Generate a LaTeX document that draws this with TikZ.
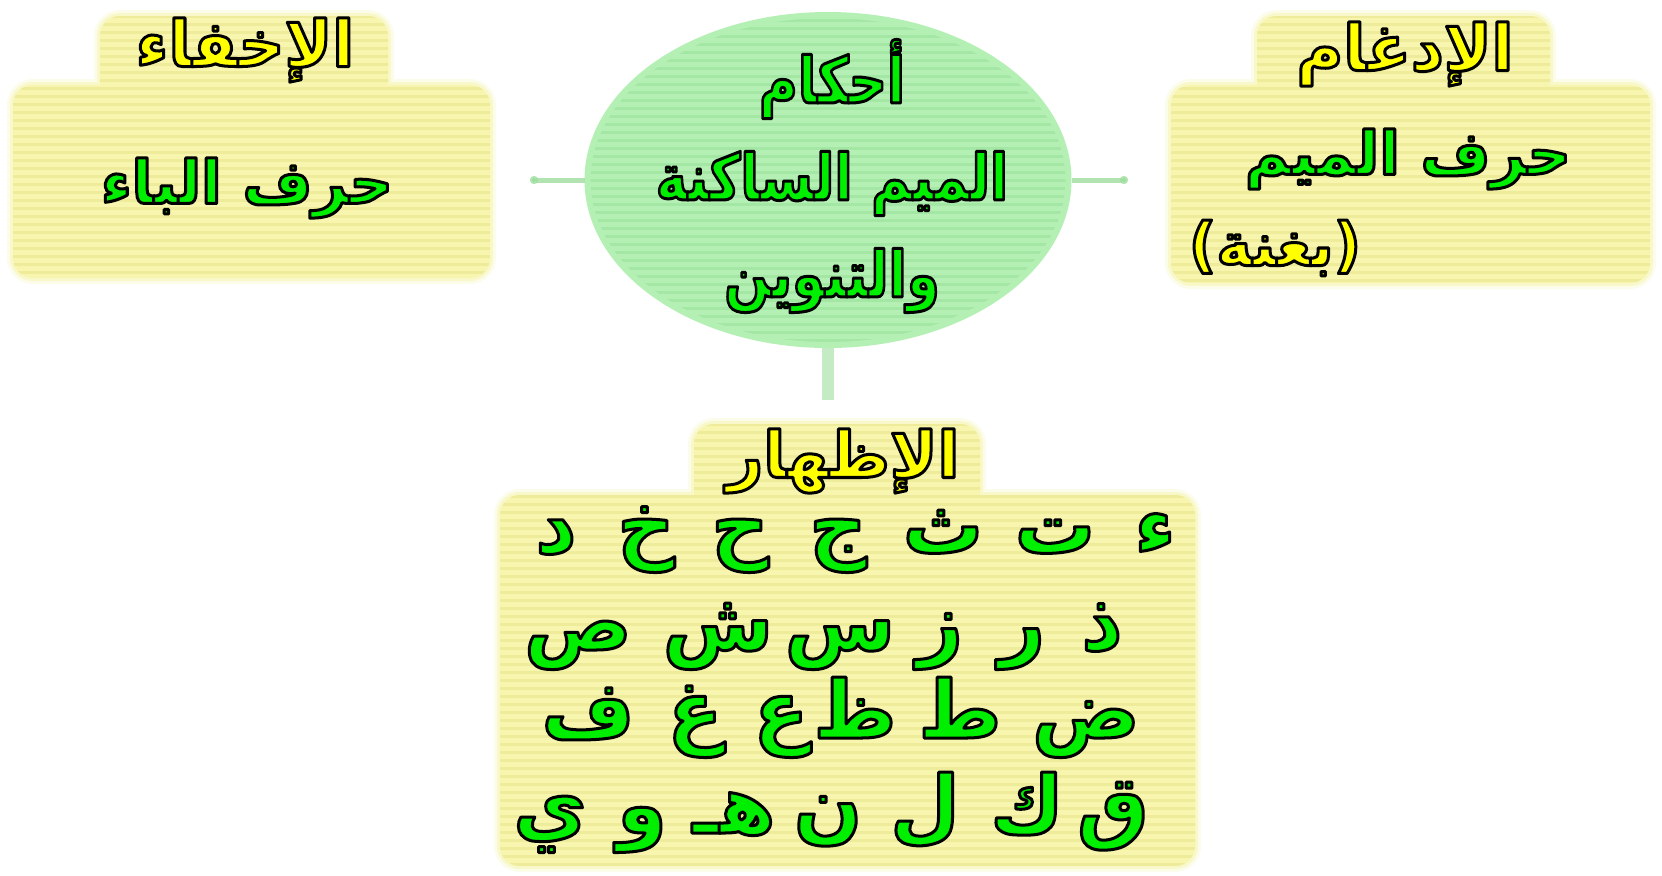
\documentclass[tikz,border=0pt]{standalone}
\usepackage{fontspec}
\usetikzlibrary{shapes.geometric,arrows.meta}
\TeXXeTstate=1
\newfontfamily\arabicbold[Script=Arabic]{DejaVu Sans Bold}
\definecolor{yl}{HTML}{F7F5AE}
\definecolor{yd}{HTML}{EEEC9A}
\definecolor{gl}{HTML}{B4F0B4}
\definecolor{gd}{HTML}{A4E6A4}
\definecolor{conncol}{HTML}{9EDE9E}
\definecolor{txtgreen}{HTML}{00EE00}
\definecolor{txtyellow}{HTML}{FFFF00}
\newcommand\outl[1]{\special{pdf:literal direct 0 G 2 Tr 1.5 w 1 j}#1\special{pdf:literal direct 0 Tr}}
\newcommand\mybox[9]{%
  \path[draw=#9l, line width=6pt, draw opacity=0.25, rounded corners=10pt] (#1,#2) rectangle (#3,#4) (#5,#6) rectangle (#7,#8);
  \path[draw=#9l, line width=3pt, draw opacity=0.5, rounded corners=10pt] (#1,#2) rectangle (#3,#4) (#5,#6) rectangle (#7,#8);
  \fill[#9l, rounded corners=10pt] (#1,#2) rectangle (#3,#4) (#5,#6) rectangle (#7,#8);
  \begin{scope}
    \clip[rounded corners=10pt] (#1,#2) rectangle (#3,#4) (#5,#6) rectangle (#7,#8);
    \foreach \yy in {0,8,...,880} \draw[#9d, line width=1.5pt] (0,\yy) -- (1662,\yy);
  \end{scope}}
\begin{document}
\begin{tikzpicture}[x=0.5pt,y=-0.5pt,
  title/.style={font=\arabicbold\fontsize{32}{38}\selectfont, text=txtyellow, inner sep=0pt},
  body/.style={font=\arabicbold\fontsize{30}{36}\selectfont, text=txtgreen, inner sep=0pt},
  letter/.style={font=\arabicbold\fontsize{40}{46}\selectfont, text=txtgreen, inner sep=0pt, anchor=base},
  conn/.style={draw=conncol, line width=2.5pt, draw opacity=0.8},
  hub/.style={ellipse, minimum width=240.5pt, minimum height=165pt, fill=gl, draw=gl, line width=3pt,
    inner sep=0pt,
    path picture={\foreach \yy in {-184,-176,...,184} \draw[gd, line width=1.5pt] (-260,\yy) -- (260,\yy);}},
  hubtext/.style={align=center, text=txtgreen, inner sep=0pt, font=\arabicbold\fontsize{32}{48.5}\selectfont}
]
\fill[white] (0,0) rectangle (1662,875);
\useasboundingbox (0,0) rectangle (1662,875);

% boxes
\mybox{100}{16}{388}{110}{13}{85}{490}{278}{y}
\mybox{1257}{16}{1550}{110}{1171}{85}{1650}{283}{y}
\mybox{694}{424}{980}{520}{500}{495}{1195}{866}{y}

% centre
\node[hub] (centre) at (828,180) {};
\node[hubtext] (centretext) at (832,176) {\scalebox{0.83}[1]{\outl{أحكام}}\\ \scalebox{0.83}[1]{\outl{\beginR الميم الساكنة\endR}}\\ \scalebox{0.83}[1]{\outl{والتنوين}}};

% connectors
\coordinate (lend) at (530,180);
\coordinate (rend) at (1128,180);
\coordinate (bend) at (828,400);
\draw[conn, -{Circle[length=4pt]}] (centre.west) -- (lend);
\draw[conn, -{Circle[length=4pt]}] (centre.east) -- (rend);
\draw[draw=conncol, line width=6pt, draw opacity=0.6] (centre.south) -- (bend);

% left box
\node[title] (lt) at (245,50) {\outl{الإخفاء}};
\node[body] (lb) at (247,188) {\outl{\beginR حرف الباء\endR}};

% right box
\node[title] (rt) at (1405,54) {\outl{الإدغام}};
\node[body] (rb) at (1408,159) {\outl{\beginR حرف الميم\endR}};
\node[body, text=txtyellow] (rp) at (1275,248) {\outl{(بغنة)}};

% bottom box
\node[title] (bt) at (843,461) {\outl{الإظهار}};
\foreach \ch/\xx [count=\i] in {ء/1155,ت/1055,ث/943,ج/838,ح/740,خ/646,د/556}
  \node[letter] (ra\i) at (\xx,553) {\outl{\ch}};
\foreach \ch/\xx [count=\i] in {ذ/1102,ر/1022,ز/940,س/840,ش/718,ص/578}
  \node[letter] (rb\i) at (\xx,650) {\outl{\ch}};
\foreach \ch/\xx [count=\i] in {ض/1086,ط/960,ظ/855,ع/781,غ/695,ف/588}
  \node[letter] (rc\i) at (\xx,738) {\outl{\ch}};
\foreach \ch/\xx [count=\i] in {ق/1113,ك/1027,ل/925,ن/828,هـ/734,و/642,ي/550}
  \node[letter] (rd\i) at (\xx,833) {\outl{\ch}};
\end{tikzpicture}
\end{document}
